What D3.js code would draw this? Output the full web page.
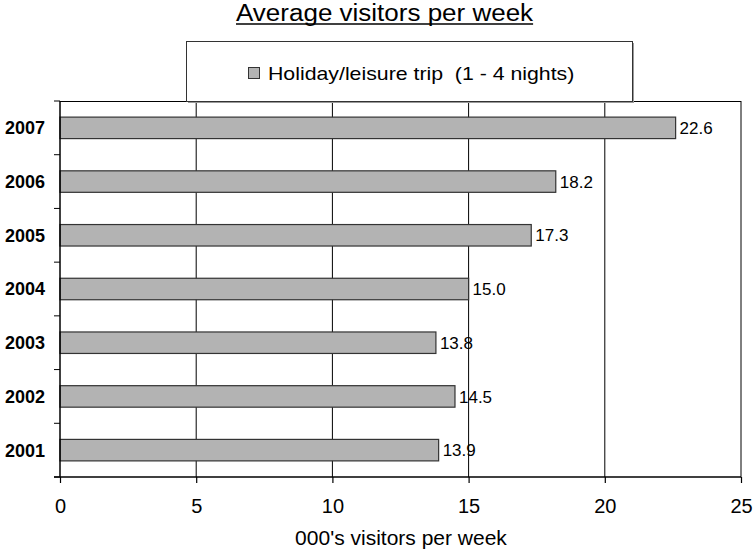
<!DOCTYPE html>
<html>
<head>
<meta charset="utf-8">
<script src="https://cdn.jsdelivr.net/npm/d3@7"></script>
<style>
  body { margin: 0; background: #fff; }
  text { font-family: "Liberation Sans", Arial, sans-serif; }
</style>
</head>
<body>
<div id="chart"></div>
<script>
var years = ["2001", "2002", "2003", "2004", "2005", "2006", "2007"];
var visitors = [13.9, 14.5, 13.8, 15.0, 17.3, 18.2, 22.6];
var xTicks = [0, 5, 10, 15, 20, 25];
var seriesName = "Holiday/leisure trip  (1 - 4 nights)";

var W = 754, H = 551;
var margin = {top: 101, right: 13, bottom: 74, left: 60};
var width = W - margin.left - margin.right,
    height = H - margin.top - margin.bottom;

var svg = d3.select("#chart").append("svg")
    .attr("width", W)
    .attr("height", H);

// the original text looks a bit stretched sideways
function stretch(sel, k) {
  var w = sel.node().getComputedTextLength();
  sel.attr("textLength", w * k).attr("lengthAdjust", "spacingAndGlyphs");
}

var g = svg.append("g")
    .attr("transform", "translate(" + margin.left + "," + margin.top + ")");

var x = d3.scaleLinear().domain([0, 25]).range([0, width]);
var y = d3.scaleBand().domain(years.slice().reverse()).range([0, height]).paddingInner(0.6).paddingOuter(0.3);

// gridlines
g.selectAll(".grid").data(xTicks.slice(1))
  .enter().append("line")
    .attr("x1", function(d) { return x(d); })
    .attr("x2", function(d) { return x(d); })
    .attr("y1", 0).attr("y2", height)
    .attr("stroke", "#000").attr("stroke-width", 1);

// plot border top
g.append("line").attr("x1", 0).attr("x2", width).attr("y1", 0.5).attr("y2", 0.5).attr("stroke", "#000");

// bars
var data = years.map(function(d, i) { return {year: d, v: visitors[i]}; });
g.selectAll(".bar").data(data)
  .enter().append("rect")
    .attr("x", 0)
    .attr("y", function(d) { return y(d.year); })
    .attr("width", function(d) { return x(d.v); })
    .attr("height", y.bandwidth())
    .attr("fill", "#b3b3b3")
    .attr("stroke", "#333")
    .attr("stroke-width", 1.2);

g.selectAll(".val").data(data)
  .enter().append("text")
    .attr("x", function(d) { return x(d.v) + 4; })
    .attr("y", function(d) { return y(d.year) + y.bandwidth() / 2; })
    .attr("dy", "0.36em")
    .style("font-size", "17px")
    .text(function(d) { return d.v.toFixed(1); });

// x axis
var xAxis = g.append("g")
    .attr("transform", "translate(0," + height + ")")
    .call(d3.axisBottom(x).tickValues(xTicks).tickSize(6).tickPadding(16).tickSizeOuter(0));
xAxis.select(".domain").attr("stroke-width", 1.5).attr("d", "M-6,0H" + width);
xAxis.selectAll(".tick line").attr("stroke-width", 1.2);
xAxis.selectAll("text").style("font-size", "20px").attr("fill", "#000")
  .style("font-family", "'Liberation Sans', Arial, sans-serif");

// y axis: ticks at band boundaries
var boundaries = d3.range(years.length + 1).map(function(i) { return i * height / years.length; });
g.selectAll(".ytick").data(boundaries)
  .enter().append("line")
    .attr("x1", -6).attr("x2", 0)
    .attr("y1", function(d) { return d; }).attr("y2", function(d) { return d; })
    .attr("stroke", "#000");
g.append("line").attr("x1", 0).attr("x2", 0).attr("y1", 0).attr("y2", height)
  .attr("stroke", "#000").attr("stroke-width", 1.5);

g.selectAll(".ylab").data(years)
  .enter().append("text")
    .attr("x", -15)
    .attr("y", function(d) { return y(d) + y.bandwidth() / 2; })
    .attr("dy", "0.36em")
    .attr("text-anchor", "end")
    .style("font-size", "18px")
    .style("font-weight", "bold")
    .text(function(d) { return d; });

// title
var title = svg.append("text")
    .attr("x", 236).attr("y", 21)
    .style("font-size", "23px")
    .text("Average visitors per week");
stretch(title, 1.13);
var tw = +title.attr("textLength");
svg.append("line")
    .attr("x1", 236).attr("x2", 236 + tw)
    .attr("y1", 24).attr("y2", 24)
    .attr("stroke", "#000").attr("stroke-width", 1.5);

// axis title
svg.append("text")
    .attr("x", 401).attr("y", 545)
    .attr("text-anchor", "middle")
    .style("font-size", "21px")
    .text("000's visitors per week");

// legend (with a thin grey shadow like the original)
var lg = svg.append("g");
lg.append("rect")
    .attr("x", 188).attr("y", 43).attr("width", 446).attr("height", 60)
    .attr("fill", "#999");
lg.append("rect")
    .attr("x", 186.5).attr("y", 41.5).attr("width", 446).attr("height", 60)
    .attr("fill", "#fff").attr("stroke", "#333").attr("stroke-width", 1);
lg.append("rect")
    .attr("x", 248.5).attr("y", 67.5).attr("width", 11).attr("height", 11)
    .attr("fill", "#b3b3b3").attr("stroke", "#333");
var lt = lg.append("text")
    .attr("x", 268).attr("y", 79.5)
    .style("font-size", "19px")
    .attr("xml:space", "preserve")
    .text(seriesName);
stretch(lt, 1.12);
</script>
</body>
</html>
